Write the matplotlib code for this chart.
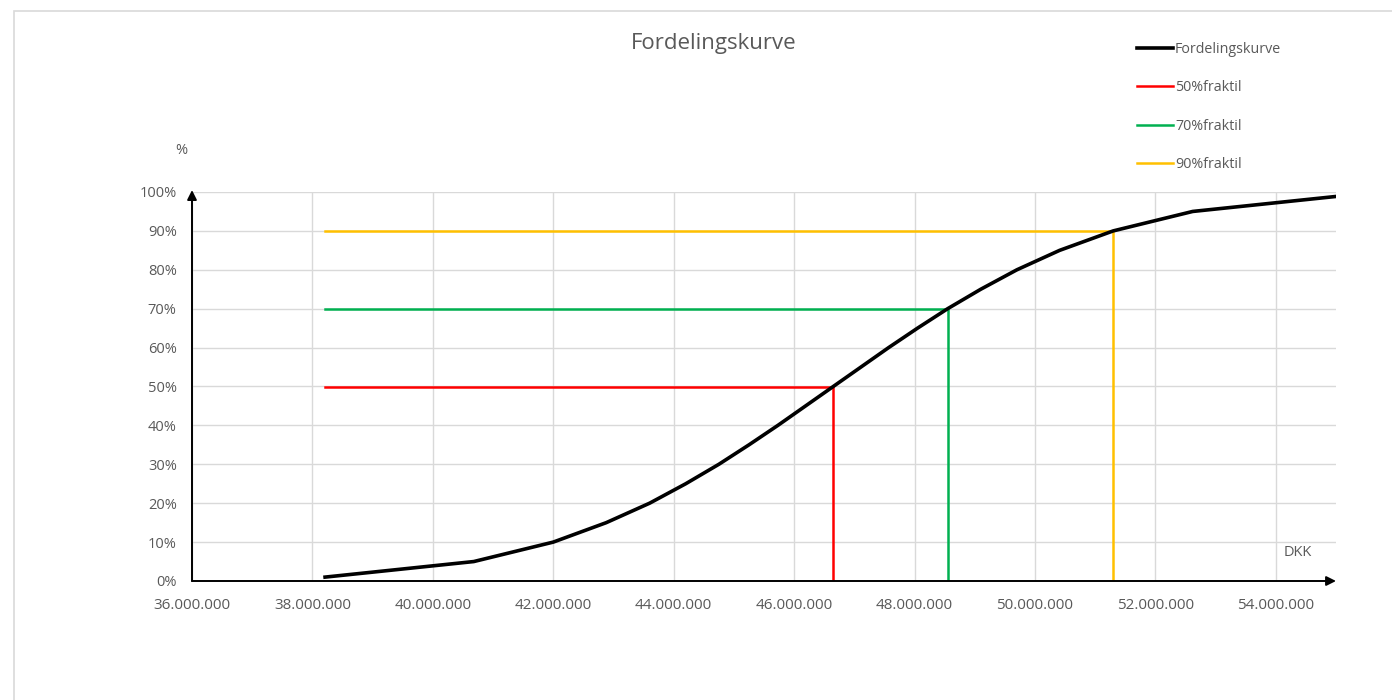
import matplotlib
matplotlib.use("Agg")
import matplotlib.pyplot as plt
from matplotlib.ticker import FuncFormatter, MultipleLocator
from matplotlib.patches import Rectangle

# data
kurve_pct = [1, 5, 10, 15, 20, 25, 30, 35, 40, 45, 50, 55, 60, 65, 70, 75, 80, 85, 90, 95, 99]
kurve_dkk = [38.21e6, 40.68e6, 42.00e6, 42.88e6, 43.60e6, 44.20e6, 44.75e6, 45.25e6,
             45.73e6, 46.19e6, 46.65e6, 47.11e6, 47.57e6, 48.05e6, 48.55e6, 49.10e6,
             49.70e6, 50.41e6, 51.30e6, 52.62e6, 55.09e6]

fraktil_names = ["50%fraktil", "70%fraktil", "90%fraktil"]
fraktil_pct = [50, 70, 90]
fraktil_dkk = [46.65e6, 48.55e6, 51.30e6]
fraktil_colors = ["#ff0000", "#00b050", "#ffc000"]

start_dkk = 38.21e6

plt.rcParams['font.family'] = ['Open Sans', 'DejaVu Sans']
gray = "#595959"

fig = plt.figure(figsize=(13.92, 7.0), dpi=100)
ax = fig.add_axes([192 / 1392, 119 / 700, (1336 - 192) / 1392, (581 - 192) / 700])

# chart border
fig.patches.append(Rectangle((13.5 / 1392, -0.05), 1.1, (700 - 10.5) / 700 + 0.05,
                             transform=fig.transFigure, fill=False,
                             edgecolor="#d9d9d9", lw=1.2))

ax.plot(kurve_dkk, [p / 100 for p in kurve_pct], color="black", lw=2.6,
        label="Fordelingskurve", solid_joinstyle="round", zorder=4)

for name, p, x, c in zip(fraktil_names, fraktil_pct, fraktil_dkk, fraktil_colors):
    ax.plot([start_dkk, x, x], [p / 100, p / 100, 0], color=c, lw=1.8, label=name, zorder=3)

ax.set_xlim(36e6, 55e6)
ax.set_ylim(0, 1)
ax.xaxis.set_major_locator(MultipleLocator(2e6))
ax.yaxis.set_major_locator(MultipleLocator(0.1))
ax.xaxis.set_major_formatter(FuncFormatter(lambda v, pos: f"{int(round(v)):,}".replace(",", ".")))
ax.yaxis.set_major_formatter(FuncFormatter(lambda v, pos: f"{int(round(v * 100))}%"))
ax.tick_params(length=0, labelcolor=gray)
ax.tick_params(axis="y", pad=11, labelsize=10.5)
ax.tick_params(axis="x", pad=12.5, labelsize=11)
ax.grid(True, color="#d9d9d9", lw=1)
ax.set_axisbelow(True)
for s in ax.spines.values():
    s.set_visible(False)

# arrow axes
ax.annotate("", xy=(1, 0), xytext=(0, 0), xycoords="axes fraction",
            arrowprops=dict(arrowstyle="-|>", color="black", lw=1.4, mutation_scale=14,
                            shrinkA=0, shrinkB=0))
ax.annotate("", xy=(0, 1.005), xytext=(0, 0), xycoords="axes fraction",
            arrowprops=dict(arrowstyle="-|>", color="black", lw=1.4, mutation_scale=14,
                            shrinkA=0, shrinkB=0))

fig.text(714 / 1392, 1 - 43 / 700, "Fordelingskurve", ha="center", va="center",
         fontsize=16, color=gray)
fig.text(181 / 1392, 1 - 151 / 700, "%", ha="center", va="center", fontsize=10.5, color=gray)
fig.text(1298 / 1392, 1 - 552 / 700, "DKK", ha="center", va="center", fontsize=10.5, color=gray)

fig.legend(loc="upper left", bbox_to_anchor=(1137 / 1392, 1 - 42 / 700), frameon=False,
           fontsize=10.3, labelcolor=gray, handlelength=2.5, handletextpad=0.15,
           labelspacing=1.64, borderaxespad=0, borderpad=0)

fig.savefig("out.png", dpi=100)
